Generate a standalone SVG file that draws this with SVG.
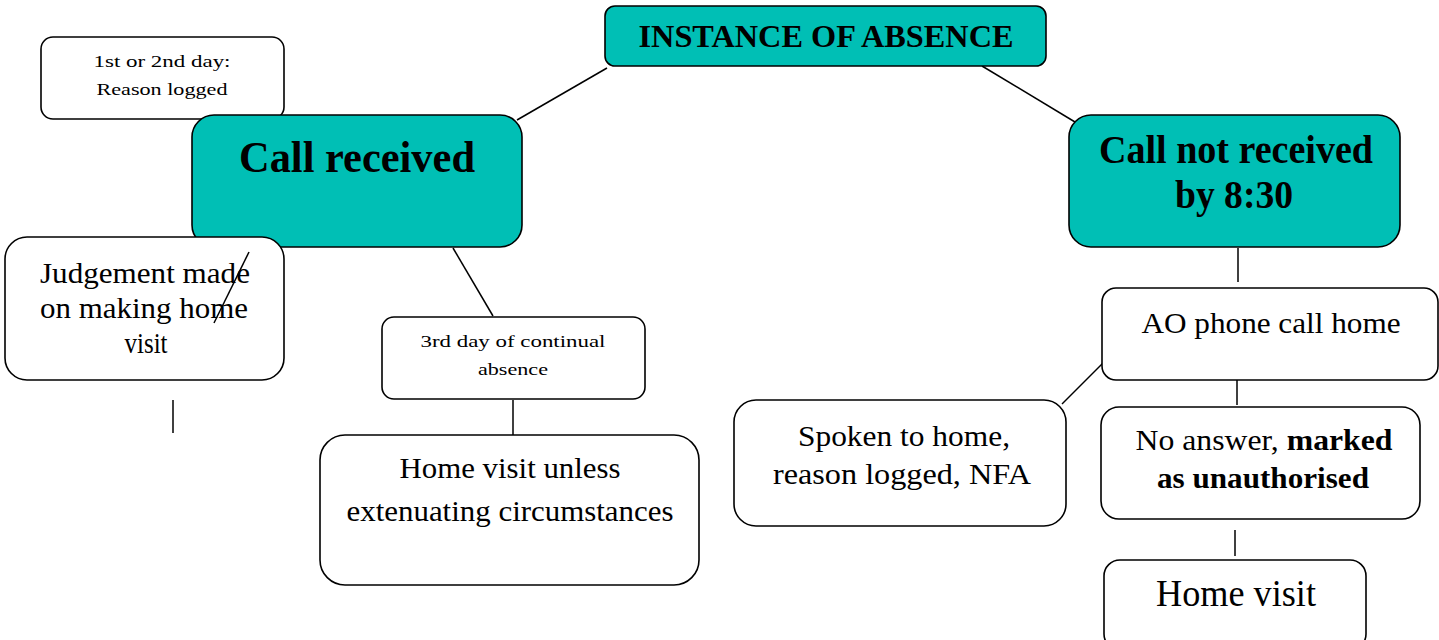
<svg xmlns="http://www.w3.org/2000/svg" width="1439" height="640" viewBox="0 0 1439 640">
<style>
.teal{fill:#00BFB5;stroke:#000;stroke-width:1.6}
.box{fill:#fff;stroke:#000;stroke-width:1.6}
.ln{stroke:#000;stroke-width:1.5;fill:none}
text{font-family:"Liberation Serif","Times New Roman",serif;fill:#000;text-anchor:middle}
.b{font-weight:bold}
</style>
<rect width="1439" height="640" fill="#fff"/>
<g id="connectors">
<line class="ln" x1="607" y1="68" x2="517" y2="120"/>
<line class="ln" x1="982" y1="66" x2="1075" y2="122"/>
<line class="ln" x1="453" y1="248" x2="493" y2="316"/>
<line class="ln" x1="513" y1="400" x2="513" y2="435"/>
<line class="ln" x1="173" y1="400" x2="173" y2="433"/>
<line class="ln" x1="1238" y1="248" x2="1238" y2="282"/>
<line class="ln" x1="1237" y1="372" x2="1237" y2="405"/>
<line class="ln" x1="1062" y1="404" x2="1104" y2="362"/>
<line class="ln" x1="1235" y1="530" x2="1235" y2="556"/>
</g>
<g id="n-instance">
<rect class="teal" x="605" y="6" width="441" height="60" rx="10"/>
<text class="b" x="826" y="47" font-size="32" textLength="375" lengthAdjust="spacingAndGlyphs">INSTANCE OF ABSENCE</text>
</g>
<g id="n-day12">
<rect class="box" x="41" y="37" width="243" height="82" rx="12"/>
<text x="162" y="67" font-size="17" textLength="137" lengthAdjust="spacingAndGlyphs">1st or 2nd day:</text>
<text x="162" y="95" font-size="17" textLength="131" lengthAdjust="spacingAndGlyphs">Reason logged</text>
</g>
<g id="n-received">
<rect class="teal" x="192" y="115" width="330" height="132" rx="22"/>
<text class="b" x="357" y="172" font-size="44" textLength="236" lengthAdjust="spacingAndGlyphs">Call received</text>
</g>
<g id="n-notreceived">
<rect class="teal" x="1069" y="115" width="331" height="132" rx="22"/>
<text class="b" x="1236" y="163" font-size="40" textLength="274" lengthAdjust="spacingAndGlyphs">Call not received</text>
<text class="b" x="1234" y="208" font-size="40" textLength="118" lengthAdjust="spacingAndGlyphs">by 8:30</text>
</g>
<g id="n-judgement">
<rect class="box" x="5" y="237" width="279" height="143" rx="22"/>
<text x="145" y="283" font-size="30" textLength="210" lengthAdjust="spacingAndGlyphs">Judgement made</text>
<text x="144" y="318" font-size="30" textLength="208" lengthAdjust="spacingAndGlyphs">on making home</text>
<text x="146" y="353" font-size="30" textLength="43" lengthAdjust="spacingAndGlyphs">visit</text>
<line class="ln" x1="249" y1="252" x2="214" y2="323"/>
</g>
<g id="n-day3">
<rect class="box" x="382" y="317" width="263" height="82" rx="12"/>
<text x="513" y="347" font-size="17" textLength="185" lengthAdjust="spacingAndGlyphs">3rd day of continual</text>
<text x="513" y="375" font-size="17" textLength="70" lengthAdjust="spacingAndGlyphs">absence</text>
</g>
<g id="n-homeunless">
<rect class="box" x="320" y="435" width="379" height="150" rx="25"/>
<text x="510" y="478" font-size="30" textLength="221" lengthAdjust="spacingAndGlyphs">Home visit unless</text>
<text x="510" y="521" font-size="30" textLength="327" lengthAdjust="spacingAndGlyphs">extenuating circumstances</text>
</g>
<g id="n-aocall">
<rect class="box" x="1102" y="288" width="336" height="92" rx="14"/>
<text x="1271" y="333" font-size="30" textLength="259" lengthAdjust="spacingAndGlyphs">AO phone call home</text>
</g>
<g id="n-spoken">
<rect class="box" x="734" y="400" width="332" height="126" rx="22"/>
<text x="904" y="446" font-size="30" textLength="212" lengthAdjust="spacingAndGlyphs">Spoken to home,</text>
<text x="902" y="484" font-size="30" textLength="258" lengthAdjust="spacingAndGlyphs">reason logged, NFA</text>
</g>
<g id="n-noanswer">
<rect class="box" x="1101" y="407" width="319" height="112" rx="18"/>
<text x="1264" y="450" font-size="30" textLength="257" lengthAdjust="spacingAndGlyphs">No answer, <tspan class="b">marked</tspan></text>
<text class="b" x="1263" y="488" font-size="30" textLength="212" lengthAdjust="spacingAndGlyphs">as unauthorised</text>
</g>
<g id="n-homevisit">
<rect class="box" x="1104" y="560" width="262" height="90" rx="16"/>
<text x="1236" y="606" font-size="38" textLength="160" lengthAdjust="spacingAndGlyphs">Home visit</text>
</g>
</svg>
